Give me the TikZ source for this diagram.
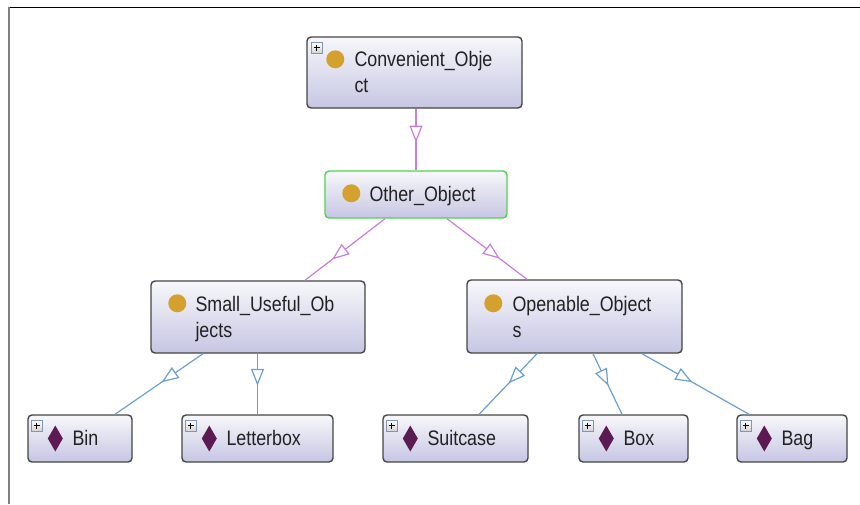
\documentclass[tikz,border=0pt]{standalone}
\usepackage{fontspec}
\setmainfont{Liberation Sans}[FakeStretch=0.85]
\usetikzlibrary{arrows.meta,decorations.markings,calc}
\definecolor{boxline}{HTML}{454545}
\definecolor{nodetop}{HTML}{F7F7FB}
\definecolor{nodebot}{HTML}{C6C6E3}
\definecolor{selgreen}{HTML}{4CD64C}
\definecolor{goldc}{HTML}{D4A02E}
\definecolor{diamc}{HTML}{5C1A52}
\definecolor{magedge}{HTML}{C97EDD}
\definecolor{blueedge}{HTML}{6A9FCF}
\definecolor{txt}{HTML}{222222}
\definecolor{plusframe}{HTML}{7F97B0}
\begin{document}
\begin{tikzpicture}[x=1pt,y=-1pt,
  cls/.style={draw=boxline, line width=1.4pt, rounded corners=4pt, top color=nodetop, bottom color=nodebot, inner sep=0pt},
  lbl/.style={anchor=base west, inner sep=0pt, text=txt, font=\fontsize{21}{24}\selectfont},
  circicon/.style={circle, fill=goldc, minimum size=18pt, inner sep=0pt},
  isa/.style 2 args={draw=#1, line width=1.2pt, postaction={decorate},
    decoration={markings, mark=at position #2 with {\arrow[line width=1.2pt]{Triangle[length=17pt, width=13pt, fill=white]}}}},
  diamondicon/.pic={\fill[diamc] (0,-13) -- (7.5,0) -- (0,13) -- (-7.5,0) -- cycle;},
  plusicon/.pic={\draw[plusframe, line width=1pt, top color=white, bottom color=gray!35] (0,0) rectangle (11,11);
     \draw[black, line width=1.3pt] (5.5,2.4) -- (5.5,8.6) (2.4,5.5) -- (8.6,5.5);}
]
\useasboundingbox (0,0) rectangle (860,504);
% frame
\draw[black, line width=1.4pt] (8,7.5) -- (860,7.5);
\draw[gray, line width=2.3pt] (9,7) -- (9,504);

% class nodes
\node[cls, minimum width=215pt, minimum height=71pt] (cv) at (414.5,72.5) {};
\node[cls, draw=selgreen, minimum width=182pt, minimum height=47pt] (oo) at (416,194.5) {};
\node[cls, minimum width=214pt, minimum height=72pt] (su) at (258,317) {};
\node[cls, minimum width=215pt, minimum height=73pt] (op) at (574.5,316.5) {};
% individuals
\node[cls, minimum width=104pt, minimum height=47pt] (bin) at (80,438.5) {};
\node[cls, minimum width=151pt, minimum height=47pt] (lb) at (257.5,438.5) {};
\node[cls, minimum width=145pt, minimum height=47pt] (sc) at (455.5,438.5) {};
\node[cls, minimum width=109pt, minimum height=47pt] (bx) at (633.5,438.5) {};
\node[cls, minimum width=110pt, minimum height=47pt] (bg) at (792,438.5) {};

% contents: Convenient_Object
\pic at ($(cv.north west)+(5,6)$) {plusicon};
\node[circicon] (cvc) at ($(cv.north west)+(29,23)$) {};
\node[lbl] (cvt1) at ($(cv.north west)+(48,30)$) {Convenient\_Obje};
\node[lbl] (cvt2) at ($(cv.north west)+(48,56)$) {ct};
% Other_Object
\node[circicon] (ooc) at ($(oo.north west)+(27,23)$) {};
\node[lbl] (oot) at ($(oo.north west)+(45,31)$) {Other\_Object};
% Small_Useful_Objects
\node[circicon] (suc) at ($(su.north west)+(27,23)$) {};
\node[lbl] (sut1) at ($(su.north west)+(45,31)$) {Small\_Useful\_Ob};
\node[lbl] (sut2) at ($(su.north west)+(45,57)$) {jects};
% Openable_Objects
\node[circicon] (opc) at ($(op.north west)+(27,24)$) {};
\node[lbl] (opt1) at ($(op.north west)+(46,32)$) {Openable\_Object};
\node[lbl] (opt2) at ($(op.north west)+(46,58)$) {s};

% individuals contents
\foreach \n/\t in {bin/Bin, lb/Letterbox, sc/Suitcase, bx/Box, bg/Bag}{
  \pic at ($(\n.north west)+(4,6)$) {plusicon};
  \pic at ($(\n.west)+(28,0)$) {diamondicon};
  \node[lbl] (\n t) at ($(\n.north west)+(45,31)$) {\t};
}

% connectors
\draw[isa={magedge}{0.55}] (oo.north |- cv.south) -- (oo.north);
\draw[isa={magedge}{0.66}] ([xshift=-31pt]oo.south) -- ([xshift=47pt]su.north);
\draw[isa={magedge}{0.66}] ([xshift=31pt]oo.south) -- ([xshift=-47.5pt]op.north);
\draw[isa={blueedge}{0.47}] ([xshift=-55pt]su.south) -- ([xshift=35pt]bin.north);
\draw[isa={blueedge}{0.53}] (lb.north |- su.south) -- (lb.north);
\draw[isa={blueedge}{0.49}] ([xshift=-37.5pt]op.south) -- ([xshift=23.5pt]sc.north);
\draw[isa={blueedge}{0.53}] ([xshift=18.5pt]op.south) -- ([xshift=-11.5pt]bx.north);
\draw[isa={blueedge}{0.47}] ([xshift=67.5pt]op.south) -- ([xshift=-43pt]bg.north);
\end{tikzpicture}
\end{document}
